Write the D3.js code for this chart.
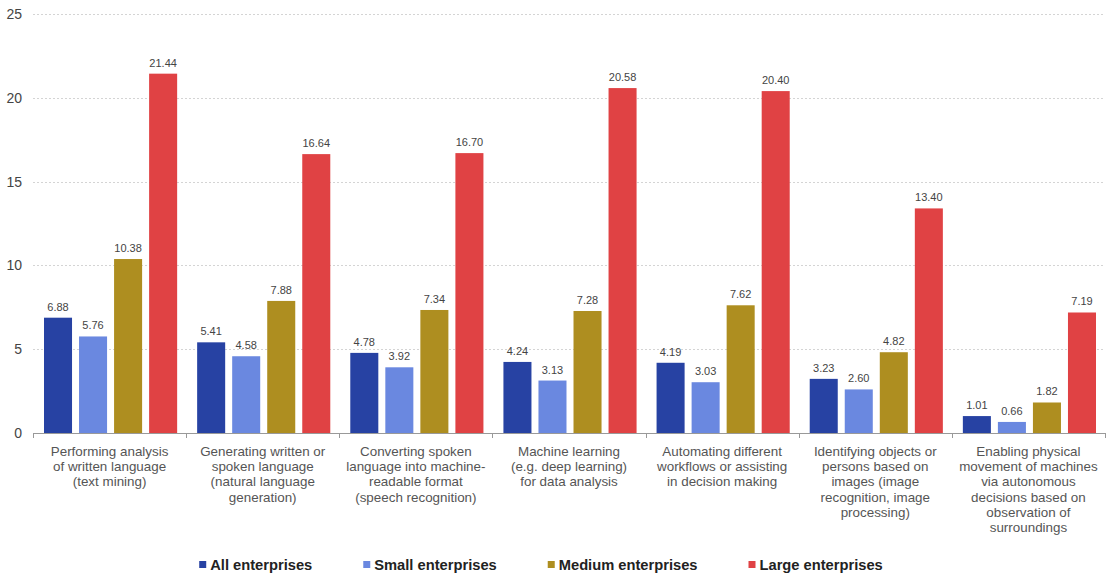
<!DOCTYPE html>
<html><head><meta charset="utf-8">
<script src="https://cdn.jsdelivr.net/npm/d3@7"></script>
<style>
html,body{margin:0;padding:0;background:#fff;}
svg{display:block;font-family:"Liberation Sans",Arial,sans-serif;}
</style></head>
<body><svg id="c" width="1108" height="577"></svg>
<script>
const categories = [
  ["Performing analysis","of written language","(text mining)"],
  ["Generating written or","spoken language","(natural language","generation)"],
  ["Converting spoken","language into machine-","readable format","(speech recognition)"],
  ["Machine learning","(e.g. deep learning)","for data analysis"],
  ["Automating different","workflows or assisting","in decision making"],
  ["Identifying objects or","persons based on","images (image","recognition, image","processing)"],
  ["Enabling physical","movement of machines","via autonomous","decisions based on","observation of","surroundings"]
];
const seriesNames = ["All enterprises","Small enterprises","Medium enterprises","Large enterprises"];
const allEnt    = [6.88, 5.41, 4.78, 4.24, 4.19, 3.23, 1.01];
const smallEnt  = [5.76, 4.58, 3.92, 3.13, 3.03, 2.60, 0.66];
const mediumEnt = [10.38, 7.88, 7.34, 7.28, 7.62, 4.82, 1.82];
const largeEnt  = [21.44, 16.64, 16.70, 20.58, 20.40, 13.40, 7.19];
const yTicks = [0, 5, 10, 15, 20, 25];
const colors = ["#2742a3", "#6a88e0", "#ae8e20", "#e04244"];

(function () {
const seriesVals = [allEnt, smallEnt, mediumEnt, largeEnt];
const svg = d3.select("#c");
const pL = 33, pR = 1105, pT = 14, pB = 433;

const x0 = d3.scaleBand().domain(d3.range(categories.length)).range([pL, pR]).padding(0);
const x1 = d3.scaleBand().domain(d3.range(seriesNames.length))
  .range([11, x0.bandwidth() - 9]).paddingInner(0.2).paddingOuter(0);
const y = d3.scaleLinear().domain([0, 25]).range([pB, pT]);

// grid
svg.append("g").selectAll("line").data(yTicks.filter(d => d > 0)).join("line")
  .attr("x1", pL).attr("x2", pR)
  .attr("y1", d => Math.round(y(d)) + 0.5).attr("y2", d => Math.round(y(d)) + 0.5)
  .attr("stroke", "#d4d4d4").attr("stroke-dasharray", "2,2").attr("stroke-width", 1);

// y labels
svg.append("g").selectAll("text").data(yTicks).join("text")
  .attr("x", 22).attr("y", d => y(d) + 5)
  .attr("text-anchor", "end").attr("font-size", 14).attr("fill", "#444")
  .text(d => d);

// bars
const groups = svg.append("g").selectAll("g").data(categories).join("g")
  .attr("transform", (d, i) => `translate(${x0(i)},0)`);
groups.each(function(d, i) {
  const g = d3.select(this);
  seriesVals.forEach((vals, s) => {
    g.append("rect")
      .attr("x", x1(s)).attr("width", x1.bandwidth())
      .attr("y", y(vals[i])).attr("height", y(0) - y(vals[i]))
      .attr("fill", colors[s]);
    g.append("text")
      .attr("x", x1(s) + x1.bandwidth() / 2).attr("y", y(vals[i]) - 7)
      .attr("text-anchor", "middle").attr("font-size", 11).attr("fill", "#444")
      .text(vals[i].toFixed(2));
  });
});

// x axis line and ticks
svg.append("line").attr("x1", pL).attr("x2", pR)
  .attr("y1", pB + 0.5).attr("y2", pB + 0.5)
  .attr("stroke", "#999").attr("stroke-width", 1);
svg.append("g").selectAll("line").data(d3.range(categories.length + 1)).join("line")
  .attr("x1", i => Math.round(pL + i * x0.bandwidth()) + 0.5)
  .attr("x2", i => Math.round(pL + i * x0.bandwidth()) + 0.5)
  .attr("y1", pB).attr("y2", pB + 5)
  .attr("stroke", "#999");

// category labels
const cl = svg.append("g").selectAll("text").data(categories).join("text")
  .attr("text-anchor", "middle").attr("font-size", 13.4).attr("fill", "#555")
  .attr("transform", (d, i) => `translate(${x0(i) + x0.bandwidth() / 2},0)`);
cl.selectAll("tspan").data(d => d).join("tspan")
  .attr("x", 0).attr("y", (d, j) => 456 + j * 15.2).text(d => d);

// legend
const leg = svg.append("g");
let cx = 0;
seriesNames.forEach((name, s) => {
  const g = leg.append("g");
  g.append("rect").attr("x", 0).attr("y", -9).attr("width", 7).attr("height", 7).attr("fill", colors[s]);
  const t = g.append("text").attr("x", 11).attr("y", 0).attr("font-size", 14.7)
    .attr("font-weight", "bold").attr("fill", "#222").text(name);
  const w = 11 + t.node().getComputedTextLength();
  g.attr("transform", `translate(${cx},0)`);
  cx += w + 51;
});
const total = cx - 51;
leg.attr("transform", `translate(${541 - total / 2},570)`);
})();
</script></body></html>
